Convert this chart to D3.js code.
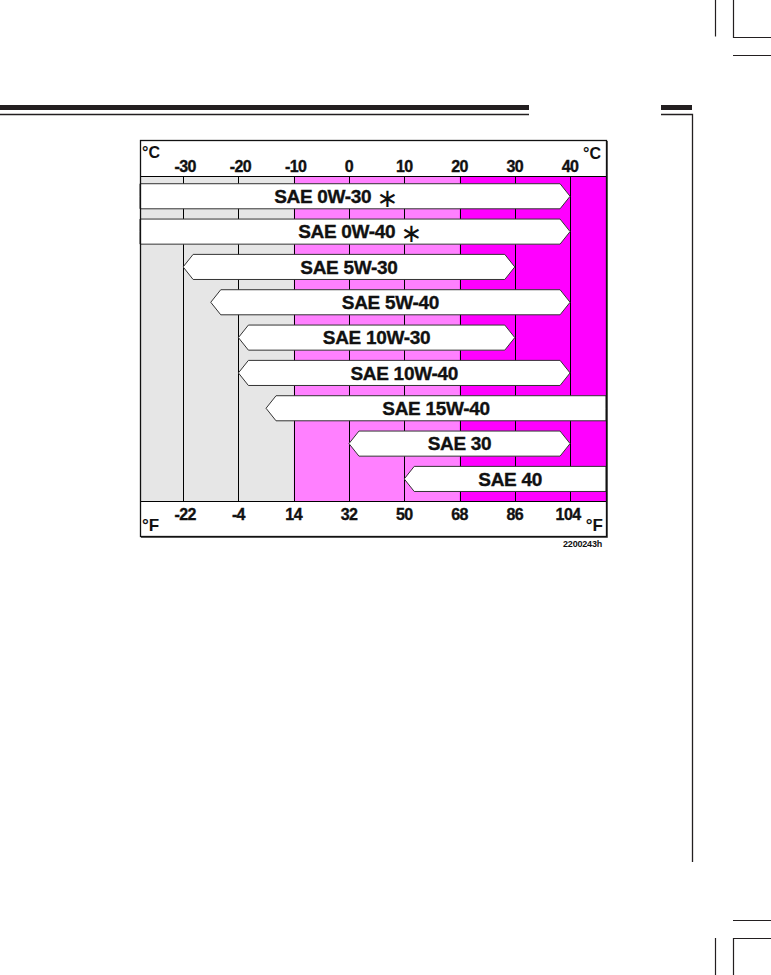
<!DOCTYPE html>
<html>
<head>
<meta charset="utf-8">
<script src="https://cdn.jsdelivr.net/npm/d3@7"></script>
<style>
  body { margin: 0; background: #fff; }
  svg { display: block; }
  text { font-family: "Liberation Sans", Arial, sans-serif; font-weight: bold; fill: #111; }
  .label, .ctick, .ftick { stroke: #111; stroke-width: 0.35px; }
</style>
</head>
<body>
<script>
// oil grades and their temperature ranges (°C), null = runs off the chart edge
var grades   = ["SAE 0W-30", "SAE 0W-40", "SAE 5W-30", "SAE 5W-40", "SAE 10W-30",
                "SAE 10W-40", "SAE 15W-40", "SAE 30", "SAE 40"];
var minTemp  = [null, null, -30, -25, -20, -20, -15, 0, 10];
var maxTemp  = [40, 40, 30, 40, 30, 40, null, 40, null];
var starred  = [true, true, false, false, false, false, false, false, false];

// axis ticks
var celsiusTicks    = [-30, -20, -10, 0, 10, 20, 30, 40];
var fahrenheitTicks = ["-22", "-4", "14", "32", "50", "68", "86", "104"];

// temperature zones of the background
var zoneBreaks = [-10, 20];

var W = 771, H = 975;
var box = {left: 140, right: 606, top: 140, bottom: 536},
    gridTop = 176, gridBottom = 501;

var svg = d3.select("body").append("svg")
    .attr("width", W)
    .attr("height", H);

var x = d3.scaleLinear()
    .domain([-37.8, 46.5])
    .range([box.left, box.right]);

var y = d3.scaleBand()
    .domain(grades)
    .range([178.6, 496.6])
    .paddingInner(0.29)
    .paddingOuter(0.145);

// page decoration
svg.append("rect").attr("x", 0).attr("y", 105).attr("width", 529).attr("height", 5).attr("fill", "#231f20");
svg.append("line").attr("x1", 0).attr("x2", 529).attr("y1", 114.5).attr("y2", 114.5).attr("stroke", "#231f20").attr("stroke-width", 1.3);
svg.append("rect").attr("x", 661).attr("y", 105).attr("width", 31).attr("height", 5).attr("fill", "#231f20");
svg.append("path").attr("d", "M661,114.5H692.5V862").attr("fill", "none").attr("stroke", "#231f20").attr("stroke-width", 1.3);

// crop marks
var marks = [
  "M715.5,0V36.5", "M733.5,0V37.5H771", "M733,55.5H771",
  "M733,920.5H771", "M715.5,938V975", "M733.5,975V938.5H771"
];
svg.selectAll(".crop")
    .data(marks)
  .enter().append("path")
    .attr("class", "crop")
    .attr("d", function(d) { return d; })
    .attr("fill", "none")
    .attr("stroke", "#231f20")
    .attr("stroke-width", 1.2);

// background zones
var zoneEdges = [x.domain()[0]].concat(zoneBreaks, [x.domain()[1]]);
var zoneColors = ["#e6e6e6", "#ff80ff", "#ff00ff"];
svg.selectAll(".zone")
    .data(zoneColors)
  .enter().append("rect")
    .attr("class", "zone")
    .attr("x", function(d, i) { return x(zoneEdges[i]); })
    .attr("width", function(d, i) { return x(zoneEdges[i + 1]) - x(zoneEdges[i]); })
    .attr("y", gridTop)
    .attr("height", gridBottom - gridTop)
    .attr("fill", function(d) { return d; });

// vertical grid lines
svg.selectAll(".grid")
    .data(celsiusTicks)
  .enter().append("line")
    .attr("class", "grid")
    .attr("x1", function(d) { return Math.round(x(d)) + 0.5; })
    .attr("x2", function(d) { return Math.round(x(d)) + 0.5; })
    .attr("y1", gridTop)
    .attr("y2", gridBottom)
    .attr("stroke", "#000")
    .attr("stroke-width", 1);

svg.append("line").attr("x1", box.left).attr("x2", box.right).attr("y1", gridTop + 0.5).attr("y2", gridTop + 0.5).attr("stroke", "#000");
svg.append("line").attr("x1", box.left).attr("x2", box.right).attr("y1", gridBottom + 0.5).attr("y2", gridBottom + 0.5).attr("stroke", "#000");

// arrow bars
var tip = 10;
function arrowPath(i) {
  var g = grades[i],
      x0 = minTemp[i] == null ? box.left : x(minTemp[i]),
      x1 = maxTemp[i] == null ? box.right : x(maxTemp[i]),
      y0 = y(g), y1 = y0 + y.bandwidth(), ym = (y0 + y1) / 2;
  var l = minTemp[i] == null ? 0 : tip,
      r = maxTemp[i] == null ? 0 : tip;
  return "M" + (x0 + l) + "," + y0 + "L" + (x1 - r) + "," + y0 + "L" + x1 + "," + ym +
         "L" + (x1 - r) + "," + y1 + "L" + (x0 + l) + "," + y1 + "L" + x0 + "," + ym + "Z";
}

svg.selectAll(".bar")
    .data(grades)
  .enter().append("path")
    .attr("class", "bar")
    .attr("d", function(d, i) { return arrowPath(i); })
    .attr("fill", "#fff")
    .attr("stroke", "#333")
    .attr("stroke-width", 1);

// labels on bars
var labelShift = {0: -19, 1: 5, 8: 5};
var labels = svg.selectAll(".label")
    .data(grades)
  .enter().append("text")
    .attr("class", "label")
    .attr("x", function(d, i) {
      var x0 = minTemp[i] == null ? box.left : x(minTemp[i]),
          x1 = maxTemp[i] == null ? box.right : x(maxTemp[i]);
      return (x0 + x1) / 2 + (labelShift[i] || 0);
    })
    .attr("y", function(d) { return y(d) + y.bandwidth() / 2 + 6.8; })
    .attr("text-anchor", "middle")
    .style("font-size", "19px")
    .style("letter-spacing", "-0.3px");

labels.append("tspan").text(function(d) { return d; });
labels.filter(function(d, i) { return starred[i]; })
  .append("tspan")
    .attr("dx", 5)
    .attr("dy", 4)
    .style("font-family", "DejaVu Sans")
    .style("font-weight", "normal")
    .style("font-size", "26px")
    .style("stroke-width", "0px")
    .text("\u2217");

// celsius ticks (top)
svg.selectAll(".ctick")
    .data(celsiusTicks)
  .enter().append("text")
    .attr("class", "ctick")
    .attr("x", function(d) { return x(d) + (d < 0 ? 2 : 0); })
    .attr("y", 171.5)
    .attr("text-anchor", "middle")
    .style("font-size", "16px")
    .style("letter-spacing", "-0.6px")
    .text(function(d) { return d < 0 ? "-" + Math.abs(d) : d; });

// fahrenheit ticks (bottom)
svg.selectAll(".ftick")
    .data(fahrenheitTicks)
  .enter().append("text")
    .attr("class", "ftick")
    .attr("x", function(d, i) { return x(celsiusTicks[i]) + (i === 0 ? 2 : 0) + (i === 7 ? -2 : 0); })
    .attr("y", 519.5)
    .attr("text-anchor", "middle")
    .style("font-size", "16px")
    .style("letter-spacing", "-0.6px")
    .text(function(d) { return d; });

// unit labels
svg.append("text").attr("x", 142).attr("y", 158).style("font-size", "16px").text("°C");
svg.append("text").attr("x", 583).attr("y", 159).style("font-size", "16px").text("°C");
svg.append("text").attr("x", 142).attr("y", 531).style("font-size", "17px").text("°F");
svg.append("text").attr("x", 603).attr("y", 531).attr("text-anchor", "end").style("font-size", "17px").text("°F");

// frame
svg.append("rect")
    .attr("x", box.left + 0.5)
    .attr("y", box.top + 0.5)
    .attr("width", box.right - box.left)
    .attr("height", box.bottom - box.top)
    .attr("fill", "none")
    .attr("stroke", "#111")
    .attr("stroke-width", 1.3);
svg.append("path")
    .attr("d", "M" + (box.right + 1.5) + "," + (box.top + 1) + "V" + (box.bottom + 1.5) + "H" + (box.left + 1))
    .attr("fill", "none")
    .attr("stroke", "#555")
    .attr("stroke-width", 1);

svg.append("text")
    .attr("x", 602)
    .attr("y", 547)
    .attr("text-anchor", "end")
    .style("font-size", "9px")
    .style("letter-spacing", "-0.2px")
    .text("2200243h");
</script>
</body>
</html>
